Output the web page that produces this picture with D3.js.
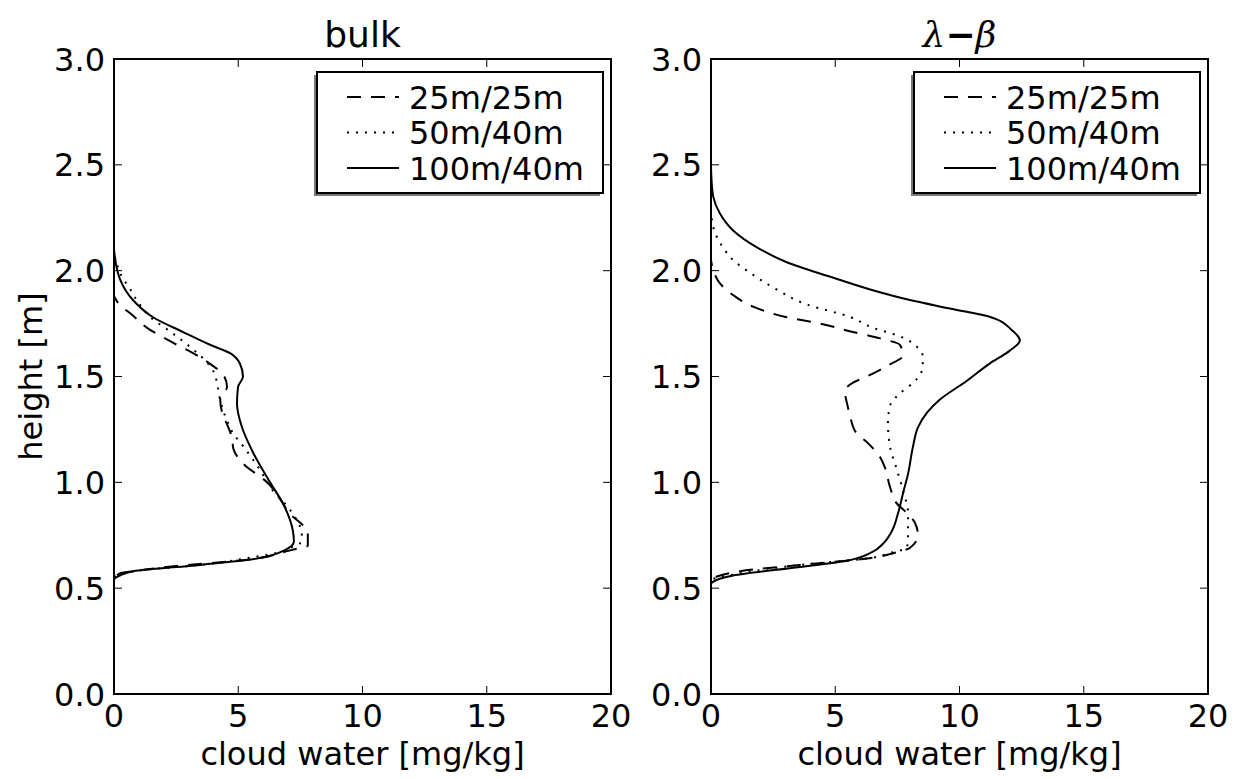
<!DOCTYPE html>
<html>
<head>
<meta charset="utf-8">
<script src="https://cdn.jsdelivr.net/npm/d3@7"></script>
<style>
  body { margin: 0; background: #fff; }
  svg { font-family: "DejaVu Sans", sans-serif; }
</style>
</head>
<body>
<div id="chart"></div>
<script>
// series names and line styles
const seriesNames = ["25m/25m", "50m/40m", "100m/40m"];
const dashes = ["14,10", "2,7", null];

// bulk panel: [cloud water, height]
const bulk25 = [[0,0],[0,0.54],[0.24,0.57],[0.77,0.58],[2.1,0.60],[5.75,0.64],[6.8,0.67],[7.48,0.69],[7.8,0.70],[7.8,0.77],[7.48,0.81],[7.08,0.85],[6.8,0.90],[6.16,1.00],[5.19,1.09],[4.8,1.16],[4.75,1.21],[4.6,1.26],[4.35,1.33],[4.27,1.40],[4.55,1.45],[4.39,1.51],[3.98,1.55],[3.34,1.60],[2.37,1.66],[1.33,1.73],[0.64,1.80],[0.3,1.83],[0,1.88]];
const bulk50 = [[0,0],[0,0.55],[0.24,0.56],[0.77,0.58],[3.46,0.61],[5.75,0.65],[6.68,0.67],[7.08,0.69],[7.48,0.71],[7.56,0.76],[7.36,0.82],[6.88,0.90],[6.4,0.96],[5.87,1.06],[5.07,1.19],[4.8,1.23],[4.67,1.26],[4.39,1.34],[4.27,1.39],[4.14,1.47],[4.06,1.51],[3.86,1.55],[3.06,1.64],[2.17,1.72],[1.57,1.77],[0.92,1.86],[0.72,1.90],[0.24,1.99],[0.1,2.04],[0,2.08]];
const bulk100 = [[0,0],[0,0.54],[0.24,0.56],[0.77,0.58],[3.46,0.61],[5.75,0.64],[6.88,0.68],[7.24,0.72],[7.2,0.77],[6.8,0.90],[6.28,1.00],[5.6,1.14],[5.15,1.26],[4.95,1.37],[4.99,1.45],[5.19,1.50],[5.07,1.56],[4.67,1.61],[3.86,1.65],[2.78,1.71],[1.57,1.78],[0.77,1.86],[0.24,1.96],[0,2.10]];

// lambda-beta panel
const lb25 = [[0,0],[0,0.54],[0.24,0.555],[1.17,0.58],[3.58,0.61],[6.27,0.64],[7.48,0.67],[8.0,0.69],[8.33,0.75],[8.2,0.81],[7.88,0.855],[7.48,0.90],[7.2,0.98],[7.0,1.07],[6.8,1.12],[6.27,1.19],[5.87,1.23],[5.6,1.31],[5.5,1.36],[5.39,1.43],[5.7,1.47],[6.27,1.50],[7.08,1.55],[7.73,1.60],[7.6,1.65],[6.8,1.68],[5.71,1.71],[4.39,1.75],[3.05,1.78],[1.69,1.83],[0.89,1.885],[0.36,1.94],[0.1,2.0],[0,2.05]];
const lb50 = [[0,0],[0,0.54],[0.3,0.55],[1.17,0.57],[3.58,0.61],[6.27,0.64],[7.32,0.67],[7.88,0.69],[7.93,0.74],[7.93,0.855],[7.73,0.96],[7.48,1.06],[7.2,1.17],[7.12,1.28],[7.2,1.36],[7.6,1.42],[8.13,1.47],[8.49,1.53],[8.53,1.59],[8.29,1.64],[7.6,1.69],[6.52,1.73],[5.63,1.78],[3.86,1.84],[2.66,1.91],[1.57,1.99],[0.89,2.05],[0.48,2.11],[0.16,2.18],[0,2.28]];
const lb100 = [[0,0],[0,0.52],[0.08,0.53],[0.89,0.56],[3.58,0.60],[5.47,0.63],[6.48,0.67],[6.92,0.71],[7.28,0.77],[7.53,0.855],[7.73,0.95],[7.93,1.04],[8.13,1.17],[8.33,1.26],[8.7,1.33],[9.2,1.39],[10.3,1.48],[11.2,1.56],[12.0,1.62],[12.43,1.67],[12.1,1.72],[11.27,1.78],[9.66,1.82],[8.05,1.86],[6.44,1.91],[4.83,1.97],[3.05,2.04],[1.85,2.11],[0.89,2.19],[0.36,2.27],[0.09,2.35],[0.02,2.43],[0,2.5]];

const xTicks = [0, 5, 10, 15, 20];
const yTicks = [0.0, 0.5, 1.0, 1.5, 2.0, 2.5, 3.0];

const panels = [
  { title: "bulk", left: 114, series: [bulk25, bulk50, bulk100] },
  { title: "λ−β", left: 711, series: [lb25, lb50, lb100] }
];

const W = 1243, H = 779;
const pw = 497, plotTop = 59, plotBottom = 694;
const fs = 32;

const svg = d3.select("#chart").append("svg")
    .attr("width", W)
    .attr("height", H);

const y = d3.scaleLinear().domain([0, 3]).range([plotBottom, plotTop]);

panels.forEach((p, pi) => {
    const x = d3.scaleLinear().domain([0, 20]).range([p.left, p.left + pw]);
    const g = svg.append("g");

    // clip so curves stay inside the frame
    g.append("clipPath").attr("id", "clip" + pi)
      .append("rect").attr("x", p.left).attr("y", plotTop)
        .attr("width", pw).attr("height", plotBottom - plotTop);

    // lines
    const line = d3.line()
        .x(d => x(d[0])).y(d => y(d[1]))
        .curve(d3.curveMonotoneY);
    p.series.forEach((s, i) => {
        g.append("path")
            .attr("d", line(s))
            .attr("clip-path", `url(#clip${pi})`)
            .attr("fill", "none")
            .attr("stroke", "#000")
            .attr("stroke-width", 2)
            .attr("stroke-dasharray", dashes[i]);
    });

    // inward ticks on all sides
    const tl = 8;
    xTicks.forEach(t => {
        g.append("line").attr("x1", x(t)).attr("x2", x(t)).attr("y1", plotBottom).attr("y2", plotBottom - tl)
            .attr("stroke", "#000").attr("stroke-width", 1);
        g.append("line").attr("x1", x(t)).attr("x2", x(t)).attr("y1", plotTop).attr("y2", plotTop + tl)
            .attr("stroke", "#000").attr("stroke-width", 1);
        g.append("text").attr("x", x(t)).attr("y", plotBottom + 33)
            .attr("text-anchor", "middle").attr("font-size", fs).text(t);
    });
    yTicks.forEach(t => {
        g.append("line").attr("x1", p.left).attr("x2", p.left + tl).attr("y1", y(t)).attr("y2", y(t))
            .attr("stroke", "#000").attr("stroke-width", 1);
        g.append("line").attr("x1", p.left + pw).attr("x2", p.left + pw - tl).attr("y1", y(t)).attr("y2", y(t))
            .attr("stroke", "#000").attr("stroke-width", 1);
        g.append("text").attr("x", p.left - 9).attr("y", y(t)).attr("dy", "0.36em")
            .attr("text-anchor", "end").attr("font-size", fs).text(t.toFixed(1));
    });

    // frame
    g.append("rect").attr("x", p.left).attr("y", plotTop).attr("width", pw).attr("height", plotBottom - plotTop)
        .attr("fill", "none").attr("stroke", "#000").attr("stroke-width", 2);

    // title
    if (pi === 0) {
        g.append("text").attr("x", p.left + pw / 2).attr("y", 47)
            .attr("text-anchor", "middle").attr("font-size", 36).text(p.title);
    } else {
        const t = g.append("text").attr("x", p.left + pw / 2).attr("y", 47)
            .attr("text-anchor", "middle").attr("font-size", 36);
        t.append("tspan").attr("font-family", "DejaVu Serif").attr("font-style", "italic").text("λ");
        t.append("tspan").attr("font-weight", "bold").text("−");
        t.append("tspan").attr("font-family", "DejaVu Serif").attr("font-style", "italic").text("β");
    }

    // x label
    g.append("text").attr("x", p.left + pw / 2).attr("y", 765)
        .attr("text-anchor", "middle").attr("font-size", fs).text("cloud water [mg/kg]");

    // legend
    const lx = p.left + pw - 8 - 286, ly = 72, lw = 286, lh = 121;
    g.append("rect").attr("x", lx - 3).attr("y", ly + 3).attr("width", lw).attr("height", lh)
        .attr("fill", "#777");
    g.append("rect").attr("x", lx).attr("y", ly).attr("width", lw).attr("height", lh)
        .attr("fill", "#fff").attr("stroke", "#000").attr("stroke-width", 2);
    seriesNames.forEach((name, i) => {
        const cy = ly + 25 + i * 35.5;
        g.append("line").attr("x1", lx + 30).attr("x2", lx + 82).attr("y1", cy).attr("y2", cy)
            .attr("stroke", "#000").attr("stroke-width", 2).attr("stroke-dasharray", dashes[i]);
        g.append("text").attr("x", lx + 92).attr("y", cy).attr("dy", "0.36em")
            .attr("font-size", fs).text(name);
    });
});

// y label
svg.append("text")
    .attr("transform", `translate(42,${(plotTop + plotBottom) / 2}) rotate(-90)`)
    .attr("text-anchor", "middle").attr("font-size", fs).text("height [m]");
</script>
</body>
</html>
